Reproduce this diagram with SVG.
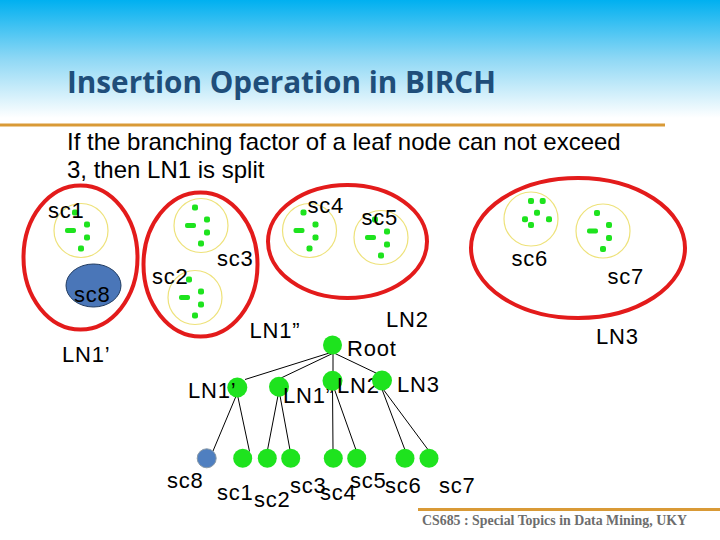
<svg xmlns="http://www.w3.org/2000/svg" xmlns:xlink="http://www.w3.org/1999/xlink" width="720" height="540" viewBox="0 0 720 540">
<style>
.lbl{font-family:"Liberation Sans",Arial,sans-serif;font-size:22px;letter-spacing:0.8px;fill:#000}
.body{font-family:"Liberation Sans",Arial,sans-serif;font-size:24px;fill:#000}
.ln{fill:none;stroke:#e31b1b;stroke-width:4}
.sc{fill:none;stroke:#eee27a;stroke-width:1.2}
.pt{fill:#1ee31e}
.node{fill:#1ee31e}
.edge{stroke:#000;stroke-width:1;fill:none}
.rule{stroke:#d99a36;stroke-width:3}
</style>
<defs>
<linearGradient id="bg" x1="0" y1="0" x2="0" y2="1">
<stop offset="0" stop-color="#00b0f0"/>
<stop offset="0.5" stop-color="#8fd8f5"/>
<stop offset="1" stop-color="#ffffff"/>
</linearGradient>
<g id="ptsA">
<rect class="pt" x="-9" y="-21" width="6" height="6" rx="2"/>
<rect class="pt" x="3" y="-9" width="6" height="6" rx="2"/>
<rect class="pt" x="-16" y="-2.5" width="11" height="5" rx="2"/>
<rect class="pt" x="3" y="4" width="6" height="6" rx="2"/>
<rect class="pt" x="-3" y="15" width="6" height="6" rx="2"/>
</g>
<g id="ptsB">
<rect class="pt" x="-3" y="-21" width="6" height="6" rx="2"/>
<rect class="pt" x="8.7" y="-21" width="6" height="6" rx="2"/>
<rect class="pt" x="3" y="-9.3" width="6" height="6" rx="2"/>
<rect class="pt" x="-9" y="-2.7" width="6" height="6" rx="2"/>
<rect class="pt" x="15" y="-2.7" width="6" height="6" rx="2"/>
<rect class="pt" x="-3" y="3" width="6" height="6" rx="2"/>
</g>
</defs>

<rect x="0" y="0" width="720" height="540" fill="#ffffff"/>
<rect x="0" y="0" width="720" height="118" fill="url(#bg)"/>
<text x="67" y="93" font-family="'Open Sans',sans-serif" font-weight="bold" font-size="30" fill="#1f4e7a" textLength="429" lengthAdjust="spacingAndGlyphs">Insertion Operation in BIRCH</text>
<line class="rule" x1="0" y1="125" x2="665" y2="125"/>
<text class="body" x="67" y="150">If the branching factor of a leaf node can not exceed</text>
<text class="body" x="67" y="177.5">3, then LN1 is split</text>

<!-- leaf nodes (upper picture) -->
<g id="LN1p">
<ellipse class="ln" cx="80.5" cy="257.5" rx="57" ry="72"/>
<circle class="sc" cx="81" cy="230.5" r="27"/>
<use xlink:href="#ptsA" x="81" y="230.5"/>
<ellipse cx="93.5" cy="285.5" rx="27.5" ry="21.5" fill="#4a76b8" stroke="#1f3a60" stroke-width="1"/>
<text class="lbl" x="48" y="218">sc1</text>
<text class="lbl" x="74" y="302">sc8</text>
<text class="lbl" x="62" y="362">LN1’</text>
</g>
<g id="LN1pp">
<ellipse class="ln" cx="200.5" cy="264.5" rx="57" ry="72"/>
<circle class="sc" cx="201" cy="225.5" r="27"/>
<use xlink:href="#ptsA" x="201" y="225.5"/>
<circle class="sc" cx="195" cy="297.5" r="27"/>
<use xlink:href="#ptsA" x="195" y="297.5"/>
<text class="lbl" x="217" y="266">sc3</text>
<text class="lbl" x="152" y="284">sc2</text>
<text class="lbl" x="249.5" y="338">LN1”</text>
</g>
<g id="LN2">
<ellipse class="ln" cx="347.5" cy="241.5" rx="79.5" ry="56.5"/>
<circle class="sc" cx="309.5" cy="230.5" r="27"/>
<use xlink:href="#ptsA" x="309.5" y="230.5"/>
<circle class="sc" cx="381" cy="237.5" r="27"/>
<use xlink:href="#ptsA" x="381" y="237.5"/>
<text class="lbl" x="307.5" y="212.5">sc4</text>
<text class="lbl" x="361.5" y="224.5">sc5</text>
<text class="lbl" x="386" y="327">LN2</text>
</g>
<g id="LN3">
<ellipse class="ln" cx="578" cy="248" rx="107" ry="70"/>
<circle class="sc" cx="531" cy="219" r="27"/>
<use xlink:href="#ptsB" x="531" y="219"/>
<circle class="sc" cx="603" cy="231" r="27"/>
<use xlink:href="#ptsA" x="603" y="231"/>
<text class="lbl" x="511.5" y="266">sc6</text>
<text class="lbl" x="607.5" y="284">sc7</text>
<text class="lbl" x="596" y="344">LN3</text>
</g>

<!-- tree connectors -->
<g id="connectors">
<line class="edge" x1="332.5" y1="352" x2="245" y2="379.5"/>
<line class="edge" x1="333.5" y1="353" x2="280" y2="378.5"/>
<line class="edge" x1="333" y1="354" x2="333" y2="372"/>
<line class="edge" x1="334" y1="353" x2="377" y2="373.5"/>
<line class="edge" x1="236.5" y1="395" x2="213" y2="451"/>
<line class="edge" x1="237.5" y1="395" x2="249.5" y2="451.5"/>
<line class="edge" x1="278.5" y1="393" x2="267.5" y2="450"/>
<line class="edge" x1="279.5" y1="393" x2="290" y2="450"/>
<line class="edge" x1="332.5" y1="387" x2="333" y2="450"/>
<line class="edge" x1="334" y1="388" x2="356" y2="450"/>
<line class="edge" x1="381.5" y1="388" x2="405" y2="450"/>
<line class="edge" x1="383" y1="389" x2="429" y2="451"/>
</g>

<!-- tree nodes -->
<g id="Root"><circle class="node" cx="332.5" cy="345" r="9.5"/><text class="lbl" x="347" y="356">Root</text></g>
<g id="t_LN1p"><circle class="node" cx="237.3" cy="387.5" r="10"/><text class="lbl" x="188" y="398">LN1’</text></g>
<g id="t_LN1pp"><circle class="node" cx="279" cy="386.7" r="10"/><text class="lbl" x="283" y="403">LN1”</text></g>
<g id="t_LN2"><circle class="node" cx="332.5" cy="380.7" r="10"/><text class="lbl" x="337" y="393">LN2</text></g>
<g id="t_LN3"><circle class="node" cx="382" cy="380.5" r="10"/><text class="lbl" x="397" y="392">LN3</text></g>
<g id="t_sc8"><circle cx="206.7" cy="458.3" r="9.5" fill="#4f7fc0" stroke="#8a9aa8" stroke-width="1"/><text class="lbl" x="167" y="488">sc8</text></g>
<g id="t_sc1"><circle class="node" cx="242.7" cy="458.3" r="9.5"/><text class="lbl" x="217" y="500">sc1</text></g>
<g id="t_sc2"><circle class="node" cx="267.3" cy="458.3" r="9.5"/><text class="lbl" x="254" y="507">sc2</text></g>
<g id="t_sc3"><circle class="node" cx="290.7" cy="458.3" r="9.5"/><text class="lbl" x="290" y="493">sc3</text></g>
<g id="t_sc4"><circle class="node" cx="333.3" cy="458.3" r="9.5"/><text class="lbl" x="320" y="500">sc4</text></g>
<g id="t_sc5"><circle class="node" cx="356.7" cy="458.3" r="9.5"/><text class="lbl" x="350" y="488">sc5</text></g>
<g id="t_sc6"><circle class="node" cx="405" cy="458.3" r="9.5"/><text class="lbl" x="385" y="493">sc6</text></g>
<g id="t_sc7"><circle class="node" cx="429" cy="458.3" r="9.5"/><text class="lbl" x="439" y="493">sc7</text></g>

<line class="rule" x1="418" y1="509.5" x2="720" y2="509.5"/>
<text x="422" y="525" font-family="'Liberation Serif','Times New Roman',serif" font-weight="bold" font-size="14" fill="#6d6d6d" textLength="265" lengthAdjust="spacingAndGlyphs">CS685 : Special Topics in Data Mining, UKY</text>
</svg>
